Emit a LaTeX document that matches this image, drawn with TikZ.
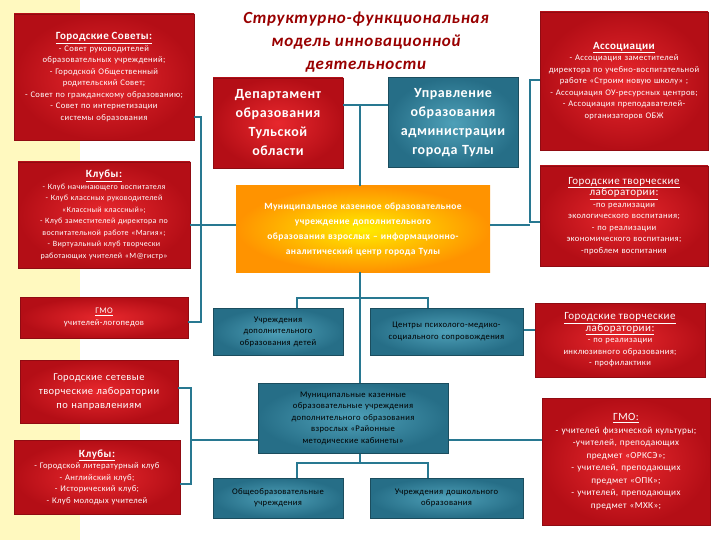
\documentclass[tikz,border=0pt]{standalone}
\usepackage{fontspec}
\setmainfont{Carlito}[LetterSpace=4]
\definecolor{tealA}{RGB}{78,160,184}
\definecolor{tealB}{RGB}{38,110,135}
\definecolor{tealL}{RGB}{40,120,145}
\definecolor{redA}{RGB}{232,40,45}
\definecolor{redB}{RGB}{180,14,22}
\begin{document}
\begin{tikzpicture}[x=1pt,y=-1pt,
 base/.style={align=center,inner sep=1pt,font=\fontsize{8.6}{11.5}\selectfont,text=white},
 redbox/.style={base,inner color=redA,outer color=redB,draw=redB!80!black,line width=0.4pt},
 tealbox/.style={base,text=black,draw=tealB!70!black,line width=1pt,inner color=tealA,outer color=tealB},
 ybox/.style={base,font=\fontsize{9.5}{15}\selectfont\bfseries,inner color=yellow!85!orange,outer color=orange!85!yellow},
 conn/.style={draw=tealL,line width=1.6pt}]
\useasboundingbox (0,0) rectangle (720,540);
\fill[white] (0,0) rectangle (720,540);
\fill[orange!18!yellow!25!white] (0,0) rectangle (80,540);
\def\bx#1#2#3#4#5#6#7{\pgfmathsetmacro\ww{#4-#2}\pgfmathsetmacro\hh{#5-#3}\pgfmathsetmacro\tw{#4-#2-6}\node[minimum width=\ww pt,minimum height=\hh pt,text width=\tw pt,#1] (#6) at ({(#2+#4)/2},{(#3+#5)/2}) {#7};}
\coordinate (L1) at (201,117); \coordinate (L2) at (201,322);
\bx{redbox}{14}{14}{194}{140}{sov}{\underline{\fontsize{11}{13}\selectfont\bfseries Городские Советы:}\\- Совет руководителей образовательных учреждений;\\- Городской Общественный родительский Совет;\\- Совет по гражданскому образованию;\\- Совет по интернетизации системы образования}
\bx{redbox,font=\fontsize{8}{11.5}\selectfont}{18}{162}{190}{268}{kl1}{\underline{\fontsize{11}{13}\selectfont\bfseries Клубы:}\\- Клуб начинающего воспитателя\\- Клуб классных руководителей «Классный классный»;\\- Клуб заместителей директора по воспитательной работе «Магия»;\\- Виртуальный клуб творчески работающих учителей «М@гистр»}
\bx{redbox}{20}{297}{188}{338}{gmo1}{\underline{ГМО}\\учителей-логопедов}
\bx{redbox,font=\fontsize{10.5}{14}\selectfont,text width=125pt}{20}{360}{178}{423}{set}{Городские сетевые творческие лаборатории по направлениям}
\bx{redbox}{14}{440}{180}{514}{kl2}{\underline{\fontsize{11}{13}\selectfont\bfseries Клубы:}\\- Городской литературный клуб\\- Английский клуб;\\- Исторический клуб;\\- Клуб молодых учителей}
\node[font=\fontsize{17}{23}\selectfont\bfseries\itshape,text=red!60!black,align=center] (title) at (366,42) {Структурно-функциональная\\модель инновационной\\деятельности};
\bx{redbox,font=\fontsize{14}{19}\selectfont\bfseries}{213}{78}{343}{168}{dep}{Департамент\\образования\\Тульской\\области}
\bx{tealbox,text=white,font=\fontsize{14}{19}\selectfont\bfseries}{388}{78}{518}{168}{upr}{Управление образования администрации города Тулы}
\bx{ybox,text width=200pt}{236}{186}{490}{272}{ye}{Муниципальное казенное образовательное учреждение дополнительного образования взрослых – информационно-аналитический центр города Тулы}
\bx{tealbox,text width=100pt}{213}{308}{343}{355}{dop}{Учреждения дополнительного образования детей}
\bx{tealbox}{370}{308}{523}{355}{cen}{Центры психолого-медико-социального сопровождения}
\bx{tealbox,text width=160pt}{258}{383}{448}{453}{rmk}{Муниципальные казенные образовательные учреждения дополнительного образования взрослых «Районные методические кабинеты»}
\bx{tealbox}{213}{478}{343}{518}{obsh}{Общеобразовательные учреждения}
\bx{tealbox}{370}{478}{523}{518}{dou}{Учреждения дошкольного образования}
\bx{redbox}{540}{12}{708}{150}{ass}{\underline{\fontsize{11}{13}\selectfont\bfseries Ассоциации}\\- Ассоциация заместителей директора по учебно-воспитательной работе «Строим новую школу» ;\\- Ассоциация ОУ-ресурсных центров;\\- Ассоциация преподавателей-организаторов ОБЖ}
\bx{redbox}{540}{166}{708}{266}{gtl1}{\underline{\fontsize{11}{13}\selectfont Городские творческие}\\\underline{\fontsize{11}{13}\selectfont лаборатории:}\\-по реализации экологического воспитания;\\- по реализации экономического воспитания;\\-проблем воспитания}
\bx{redbox}{535}{303}{705}{377}{gtl2}{\underline{\fontsize{11}{13}\selectfont Городские творческие}\\\underline{\fontsize{11}{13}\selectfont лаборатории:}\\- по реализации инклюзивного образования;\\- профилактики}
\bx{redbox,font=\fontsize{9.2}{12.5}\selectfont}{542}{398}{710}{525}{gmo2}{\underline{\fontsize{11}{13}\selectfont ГМО:}\\- учителей физической культуры;\\-учителей, преподающих предмет «ОРКСЭ»;\\- учителей, преподающих предмет «ОПК»;\\- учителей, преподающих предмет «МХК»;}
% connectors
\draw[conn] (sov.east|-L1) -- (L1) -- (L2) -- (gmo1.east|-L2);
\draw[conn] (kl1.east|-0,225) -- (ye.west|-0,225);
\draw[conn] (set.east|-0,388) -- (191,388) -- (191,484) -- (kl2.east|-0,484);
\draw[conn] (191,440) -- (rmk.west|-0,440);
\draw[conn] (ass.west|-0,80) -- (530,80) -- (530,222) -- (gtl1.west|-0,222);
\draw[conn] (ye.east|-0,225) -- (530,225);
\draw[conn] (cen.east|-0,330) -- (gtl2.west|-0,330);
\draw[conn] (rmk.east|-0,440) -- (gmo2.west|-0,440);
\draw[conn] (dep.east|-0,105) -- (upr.west|-0,105);
\draw[conn] (360,105) -- (ye.north-|360,0);
\draw[conn] (ye.south-|360,0) -- (rmk.north-|360,0);
\draw[conn] (dop.north-|297,0) -- (297,298) -- (428,298) -- (cen.north-|428,0);
\draw[conn] (rmk.south-|360,0) -- (360,463);
\draw[conn] (obsh.north-|297,0) -- (297,463) -- (428,463) -- (dou.north-|428,0);
\end{tikzpicture}
\end{document}
